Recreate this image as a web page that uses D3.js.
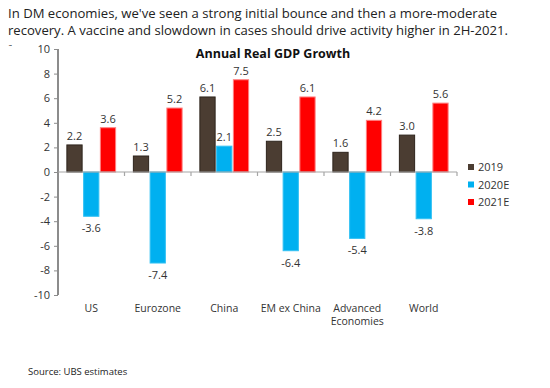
<!DOCTYPE html>
<html><head><meta charset="utf-8">
<script src="https://cdn.jsdelivr.net/npm/d3@7"></script>
<style>body{margin:0;background:#fff}svg{display:block}</style>
</head><body>
<script>
const categories = ["US","Eurozone","China","EM ex China","Advanced Economies","World"];
const seriesNames = ["2019","2020E","2021E"];
const v2019  = [2.2, 1.3, 6.1, 2.5, 1.6, 3.0];
const v2020E = [-3.6, -7.4, 2.1, -6.4, -5.4, -3.8];
const v2021E = [3.6, 5.2, 7.5, 6.1, 4.2, 5.6];
const yTicks = [10,8,6,4,2,0,-2,-4,-6,-8,-10];
const colors = ["#4b3d32","#00b0f0","#ff0000"];
const strokes = ["#2e241c","#33c1f3","#ff8080"];

const W=550,H=388;
const svg=d3.select("body").append("svg").attr("width",W).attr("height",H);
const font="'Open Sans', 'Noto Sans', sans-serif";
const hyph = f => d => f(d).replace("\u2212","-");

svg.append("text").attr("x",8).attr("y",18).attr("font-family",font).attr("font-size",12.6).attr("fill","#222")
  .attr("textLength",489).attr("lengthAdjust","spacingAndGlyphs")
  .text("In DM economies, we've seen a strong initial bounce and then a more-moderate");
svg.append("text").attr("x",8).attr("y",35).attr("font-family",font).attr("font-size",12.6).attr("fill","#222")
  .attr("textLength",500).attr("lengthAdjust","spacingAndGlyphs")
  .text("recovery. A vaccine and slowdown in cases should drive activity higher in 2H-2021.");
// clipped fragment of a hidden line
svg.append("clipPath").attr("id","frag").append("rect").attr("x",0).attr("y",41).attr("width",20).attr("height",5);
svg.append("text").attr("x",8).attr("y",49).attr("font-family",font).attr("font-size",8).attr("fill","#222")
  .attr("clip-path","url(#frag)").text("a");

const x0=58,x1=457;
const y=d3.scaleLinear().domain([-10,10]).range([295,49]);
const xb=d3.scaleBand().domain(categories).range([x0,x1]).paddingInner(0).paddingOuter(0);
const xs=d3.scaleBand().domain(seriesNames).range([0,xb.bandwidth()]).paddingOuter(0.5).paddingInner(0.03);

const data=[v2019,v2020E,v2021E];

svg.append("text").attr("x",273).attr("y",58).attr("text-anchor","middle").attr("font-family",font)
  .attr("font-size",12.5).attr("font-weight","bold").attr("fill","#111").text("Annual Real GDP Growth");

// y axis
const yAxis=svg.append("g").attr("transform",`translate(${x0},0)`)
  .call(d3.axisLeft(y).tickValues(yTicks).tickSize(4).tickPadding(4).tickFormat(hyph(d3.format("d"))));
yAxis.select(".domain").attr("stroke","#8c8c8c").attr("stroke-width",2).attr("d",`M0,${y(10)}V${y(-10)}`);
yAxis.selectAll(".tick line").attr("stroke","#8c8c8c");
yAxis.selectAll(".tick text").attr("font-family",font).attr("font-size",11).attr("fill","#333");

// bars
const fmt=hyph(d3.format(".1f"));
const g=svg.append("g");
categories.forEach((c,i)=>{
  seriesNames.forEach((s,j)=>{
    const v=data[j][i];
    const bx=xb(c)+xs(s);
    g.append("rect").attr("x",bx+0.5).attr("width",xs.bandwidth()-1)
      .attr("y",Math.min(y(v),y(0))).attr("height",Math.abs(y(v)-y(0)))
      .attr("fill",colors[j]).attr("stroke",strokes[j]).attr("stroke-width",1);
    g.append("text").attr("x",bx+xs.bandwidth()/2)
      .attr("y",v>=0? y(v)-5 : y(v)+16)
      .attr("text-anchor","middle").attr("font-family",font).attr("font-size",11).attr("fill","#333")
      .text(fmt(v));
  });
});

// x axis (zero line)
const xAxis=svg.append("g").attr("transform",`translate(0,${y(0)})`);
xAxis.append("path").attr("d",`M${x0},0H${x1}`).attr("stroke","#a6a6a6").attr("stroke-width",1.2).attr("fill","none");
categories.forEach(c=>{
  const xe=xb(c)+xb.bandwidth();
  xAxis.append("path").attr("d",`M${xe},0V4`).attr("stroke","#a6a6a6").attr("stroke-width",1.2);
});
// category labels
categories.forEach(c=>{
  const cx=xb(c)+xb.bandwidth()/2;
  const words = c==="Advanced Economies" ? ["Advanced","Economies"] : [c];
  words.forEach((w,k)=>{
    svg.append("text").attr("x",cx).attr("y",312+k*12.5).attr("text-anchor","middle")
      .attr("font-family",font).attr("font-size",10.5).attr("fill","#333").text(w);
  });
});

// legend
seriesNames.forEach((s,j)=>{
  const ly=167+j*17.5;
  svg.append("rect").attr("x",468).attr("y",ly-3).attr("width",6).attr("height",6).attr("fill",colors[j]);
  svg.append("text").attr("x",478).attr("y",ly+4).attr("font-family",font).attr("font-size",11).attr("fill","#333").text(s);
});

svg.append("text").attr("x",28).attr("y",375).attr("font-family",font).attr("font-size",9.5).attr("fill","#222")
  .text("Source: UBS estimates");
</script>
</body></html>
